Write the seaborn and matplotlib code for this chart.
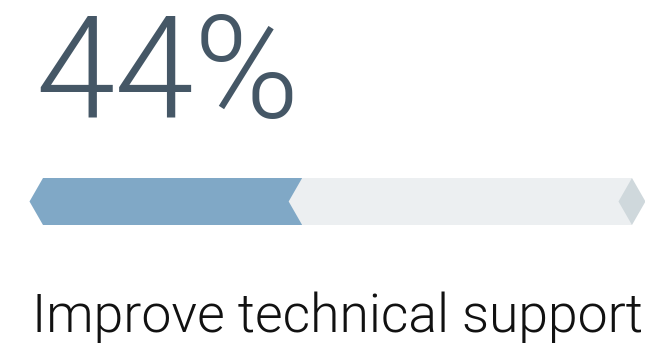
import pandas as pd
import seaborn as sns
import matplotlib.pyplot as plt

# data
metric_label = "Improve technical support"
pct_value = 44
pct_total = 100

fill_color = "#80a8c6"
track_color = "#eceff1"
cap_color = "#cfd8dc"
number_color = "#455766"

sns.set_theme(style="white")
plt.rcParams['font.family'] = ['Roboto', 'DejaVu Sans']

df = pd.DataFrame({'metric': [metric_label], 'value': [pct_value], 'total': [pct_total]})

fig = plt.figure(figsize=(6.45, 3.5), dpi=100)
ax = fig.add_axes([0, 0, 1, 1])

# track first, filled part on top
sns.barplot(data=df, x='total', y='metric', color=track_color, width=1.0,
            saturation=1, linewidth=0, ax=ax)
sns.barplot(data=df, x='value', y='metric', color=fill_color, width=1.0,
            saturation=1, linewidth=0, ax=ax)

# chevron ends
d = 2.29
ax.fill([0, -d, 0], [-0.5, 0, 0.5], color=fill_color, lw=0)
ax.fill([pct_value, pct_value - d, pct_value], [-0.5, 0, 0.5], color=track_color, lw=0)
ax.fill([pct_total, pct_total - d, pct_total, pct_total + d], [-0.5, 0, 0.5, 0],
        color=cap_color, lw=0)

ax.set_xlim(-7.30, 102.21)
ax.set_ylim(148.5 / 47, -201.5 / 47)
ax.axis('off')

fig.text(35 / 645, 1 - 118 / 350, f"{pct_value}%", fontsize=103, fontweight=300,
         color=number_color, ha='left', va='baseline')
fig.text(32 / 645, 1 - 332 / 350, metric_label, fontsize=38.5, fontweight=300,
         color='#111111', ha='left', va='baseline')

fig.savefig('out.png', dpi=100)
